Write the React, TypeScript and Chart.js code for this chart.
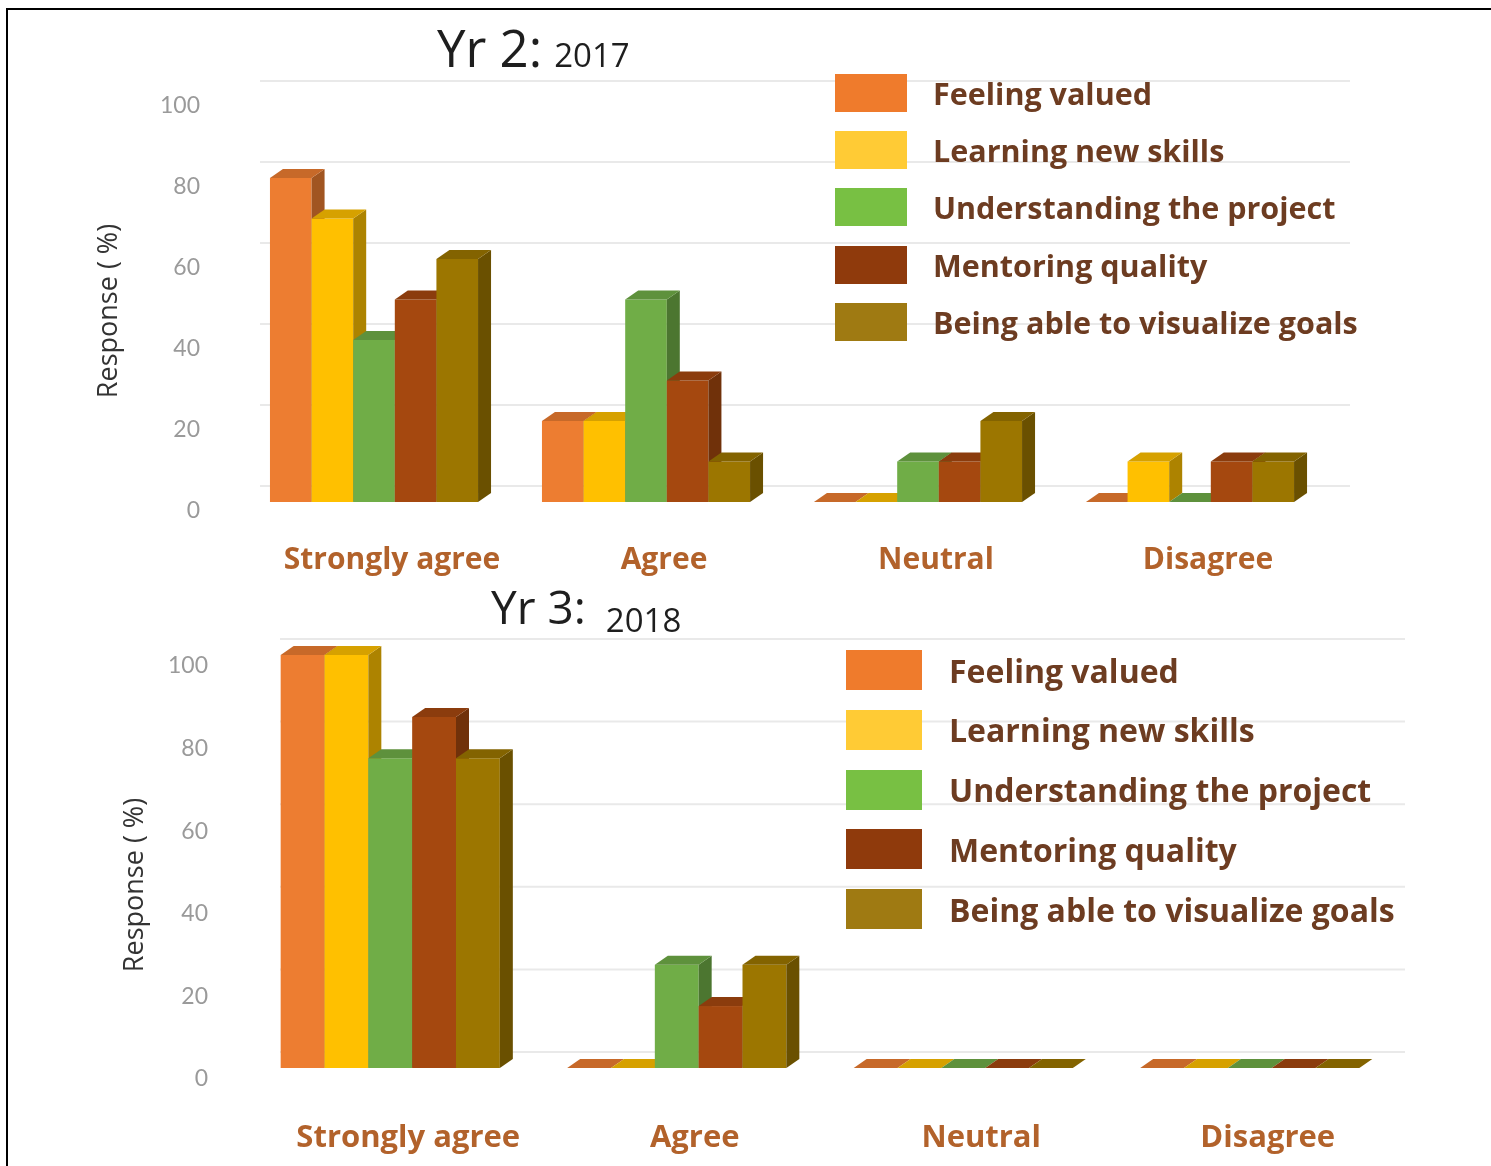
import React, { useEffect, useRef } from "react";
import { Chart, registerables } from "chart.js";

Chart.register(...registerables);

// ---------- data ----------
const categories = ["Strongly agree", "Agree", "Neutral", "Disagree"];
const seriesNames = [
  "Feeling valued",
  "Learning new skills",
  "Understanding the project",
  "Mentoring quality",
  "Being able to visualize goals",
];
// Yr 2: 2017
const yr2FeelingValued = [80, 20, 0, 0];
const yr2LearningNewSkills = [70, 20, 0, 10];
const yr2UnderstandingProject = [40, 50, 10, 0];
const yr2MentoringQuality = [50, 30, 10, 10];
const yr2VisualizeGoals = [60, 10, 20, 10];
// Yr 3: 2018
const yr3FeelingValued = [100, 0, 0, 0];
const yr3LearningNewSkills = [100, 0, 0, 0];
const yr3UnderstandingProject = [75, 25, 0, 0];
const yr3MentoringQuality = [85, 15, 0, 0];
const yr3VisualizeGoals = [75, 25, 0, 0];

const yTickValues = [0, 20, 40, 60, 80, 100];
const yAxisTitle = "Response ( %)";

const barColors = ["#ed7d31", "#ffc000", "#70ad47", "#a5480f", "#9c7600"];
const legendColors = ["#ef7b2c", "#ffcb35", "#78c043", "#8f3a0c", "#9f7a12"];

const FONT = "'Open Sans', Lato, sans-serif";

function shade(hex: string, f: number) {
  const n = parseInt(hex.slice(1), 16);
  const r = Math.round(((n >> 16) & 255) * f);
  const g = Math.round(((n >> 8) & 255) * f);
  const b = Math.round((n & 255) * f);
  return `rgb(${r},${g},${b})`;
}

// draws each bar as a 3-D box (front, side, top), series left to right
const bar3d = {
  id: "bar3d",
  afterDatasetsDraw(chart: any, _args: any, opts: any) {
    const dx = opts.dx ?? 13;
    const dy = opts.dy ?? 9;
    const ctx = chart.ctx;
    ctx.save();
    chart.data.datasets.forEach((_ds: any, di: number) => {
      const meta = chart.getDatasetMeta(di);
      const col = barColors[di];
      meta.data.forEach((el: any) => {
        const { x, y, base, width } = el.getProps(["x", "y", "base", "width"], true);
        const L = x - width / 2;
        const R = x + width / 2;
        if (base - y > 0.5) {
          ctx.fillStyle = col;
          ctx.fillRect(L, y, width, base - y);
          ctx.fillStyle = shade(col, 0.68);
          ctx.beginPath();
          ctx.moveTo(R, y);
          ctx.lineTo(R + dx, y - dy);
          ctx.lineTo(R + dx, base - dy);
          ctx.lineTo(R, base);
          ctx.closePath();
          ctx.fill();
        }
        ctx.fillStyle = shade(col, 0.84);
        ctx.beginPath();
        ctx.moveTo(L, y);
        ctx.lineTo(L + dx, y - dy);
        ctx.lineTo(R + dx, y - dy);
        ctx.lineTo(R, y);
        ctx.closePath();
        ctx.fill();
      });
    });
    ctx.restore();
  },
};

// faint gridlines on the back wall of the 3-D plot
const backGrid = {
  id: "backGrid",
  beforeDatasetsDraw(chart: any, _args: any, opts: any) {
    const ctx = chart.ctx;
    const y = chart.scales.y;
    const { left, right } = chart.chartArea;
    ctx.save();
    ctx.strokeStyle = opts.color || "#e6e6e6";
    ctx.lineWidth = 2;
    yTickValues.forEach((v) => {
      const py = y.getPixelForValue(v) - (opts.offset || 16);
      ctx.beginPath();
      ctx.moveTo(left + (opts.startInset || 20), py);
      ctx.lineTo(right + (opts.endExtend || 20), py);
      ctx.stroke();
    });
    ctx.restore();
  },
};

// rotated y-axis title
const yTitle = {
  id: "yTitle",
  afterDraw(chart: any, _args: any, opts: any) {
    const ctx = chart.ctx;
    ctx.save();
    ctx.translate(opts.x, opts.y);
    ctx.rotate(-Math.PI / 2);
    ctx.font = `${opts.size}px ${FONT}`;
    ctx.fillStyle = opts.color;
    ctx.textAlign = "center";
    ctx.textBaseline = "middle";
    ctx.fillText(opts.text, 0, 0);
    ctx.restore();
  },
};

type Cfg = {
  values: number[][];
  padTop: number;
  padRight: number;
  yWidth: number;
  xHeight: number;
  yTickPad: number;
  yLabelOffset: number;
  xTickPad: number;
  xLabelOffset: number;
  xFont: number;
  titleX: number;
  titleY: number;
  gridStart: number;
  gridEnd: number;
};

function makeChart(canvas: HTMLCanvasElement, c: Cfg) {
  return new Chart(canvas, {
    type: "bar",
    data: {
      labels: categories,
      datasets: seriesNames.map((name, i) => ({
        label: name,
        data: c.values[i],
        backgroundColor: "rgba(0,0,0,0)",
        borderWidth: 0,
        categoryPercentage: 0.765,
        barPercentage: 1,
      })),
    },
    options: {
      responsive: false,
      animation: false,
      devicePixelRatio: 1,
      layout: { padding: { top: c.padTop, right: c.padRight, left: 0, bottom: 0 } },
      plugins: {
        legend: { display: false },
        tooltip: { enabled: false },
        bar3d: { dx: 13, dy: 9 },
        backGrid: { offset: 16, startInset: c.gridStart, endExtend: c.gridEnd, color: "#e9e9e9" },
        yTitle: { text: yAxisTitle, x: c.titleX, y: c.titleY, size: 27, color: "#333333" },
      } as any,
      scales: {
        x: {
          grid: { display: false, drawTicks: false },
          border: { display: false },
          ticks: {
            color: "#b2622b",
            font: { family: FONT, size: c.xFont, weight: "bold" },
            padding: c.xTickPad,
            labelOffset: c.xLabelOffset,
            maxRotation: 0,
          },
          afterFit: (s: any) => {
            s.height = c.xHeight;
          },
        },
        y: {
          min: 0,
          max: 100,
          afterBuildTicks: (s: any) => {
            s.ticks = yTickValues.map((v) => ({ value: v }));
          },
          grid: { display: false, drawTicks: false },
          border: { display: false },
          ticks: {
            color: "#9a9a9a",
            font: { family: "Lato, sans-serif", size: 23 },
            padding: c.yTickPad,
            labelOffset: c.yLabelOffset,
          },
          title: { display: false, text: yAxisTitle },
          afterFit: (s: any) => {
            s.width = c.yWidth;
          },
        },
      },
    } as any,
    plugins: [bar3d, backGrid, yTitle],
  });
}

function Legend({ left, top, step, sw, sh, gap, size }: any) {
  return (
    <>
      {seriesNames.map((n, i) => (
        <div
          key={n}
          style={{
            position: "absolute",
            left,
            top: top + step * i,
            height: sh,
            display: "flex",
            alignItems: "center",
            whiteSpace: "nowrap",
          }}
        >
          <div style={{ width: sw, height: sh, background: legendColors[i], marginRight: gap, flex: "none" }} />
          <span style={{ fontFamily: FONT, fontWeight: 700, fontSize: size, color: "#6d3c21" }}>{n}</span>
        </div>
      ))}
    </>
  );
}

function Title({ left, top, big, small, bigSize, smallSize, gap, drop }: any) {
  return (
    <div
      style={{
        position: "absolute",
        left,
        top,
        fontFamily: FONT,
        color: "#1e1e1e",
        lineHeight: 1,
        whiteSpace: "nowrap",
      }}
    >
      <span style={{ fontSize: bigSize }}>{big}</span>
      <span style={{ fontSize: smallSize, marginLeft: gap, verticalAlign: -drop }}>{small}</span>
    </div>
  );
}

export default function App() {
  const ref1 = useRef<HTMLCanvasElement>(null);
  const ref2 = useRef<HTMLCanvasElement>(null);

  useEffect(() => {
    const c1 = makeChart(ref1.current!, {
      values: [yr2FeelingValued, yr2LearningNewSkills, yr2UnderstandingProject, yr2MentoringQuality, yr2VisualizeGoals],
      padTop: 97,
      padRight: 165,
      yWidth: 238,
      xHeight: 88,
      yTickPad: 38,
      yLabelOffset: 9,
      xTickPad: 40,
      xLabelOffset: 18,
      xFont: 30,
      titleX: 109,
      titleY: 311,
      gridStart: 22,
      gridEnd: 24,
    });
    const c2 = makeChart(ref2.current!, {
      values: [yr3FeelingValued, yr3LearningNewSkills, yr3UnderstandingProject, yr3MentoringQuality, yr3VisualizeGoals],
      padTop: 65,
      padRight: 98,
      yWidth: 247,
      xHeight: 98,
      yTickPad: 39,
      yLabelOffset: 11,
      xTickPad: 52,
      xLabelOffset: 18,
      xFont: 31,
      titleX: 135,
      titleY: 295,
      gridStart: 33,
      gridEnd: 12,
    });
    return () => {
      c1.destroy();
      c2.destroy();
    };
  }, []);

  return (
    <div>
      <div
        style={{
          position: "absolute",
          left: 6,
          top: 8,
          width: 1485,
          height: 1158,
          boxSizing: "border-box",
          borderTop: "2px solid #000",
          borderLeft: "2px solid #000",
        }}
      />
      <canvas
        ref={ref1}
        width={1491}
        height={590}
        style={{ position: "absolute", left: 0, top: 0, width: 1491, height: 590 }}
      />
      <canvas
        ref={ref2}
        width={1491}
        height={576}
        style={{ position: "absolute", left: 0, top: 590, width: 1491, height: 576 }}
      />
      <Title left={437} top={22} big="Yr 2:" small="2017" bigSize={51} smallSize={33} gap={12} drop={0} />
      <Title left={491} top={583} big="Yr 3:" small="2018" bigSize={46} smallSize={33} gap={20} drop={8} />
      <Legend left={835} top={74} step={57.2} sw={72} sh={38} gap={26} size={30.5} />
      <Legend left={846} top={650} step={59.8} sw={76} sh={40} gap={27} size={32} />
    </div>
  );
}
